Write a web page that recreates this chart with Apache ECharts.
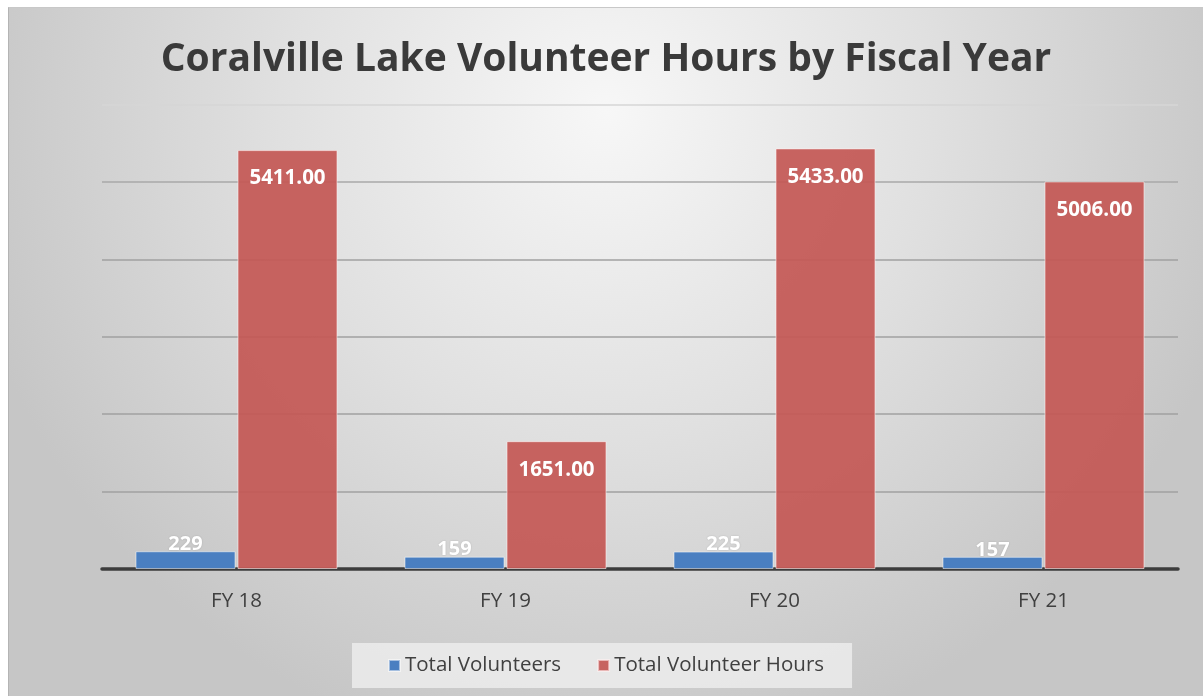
<!DOCTYPE html>
<html>
<head>
<meta charset="utf-8">
<script src="https://cdn.jsdelivr.net/npm/echarts@6/dist/echarts.min.js"></script>
<style>
html,body{margin:0;padding:0;background:#fff;width:1203px;height:696px;overflow:hidden;}
#chart{position:absolute;left:8px;top:7px;width:1195px;height:689px;border-left:1px solid #b4b4b4;border-top:1px solid #c8c8c8;box-sizing:border-box;}
</style>
</head>
<body>
<div id="chart"></div>
<script>
const categories = ['FY 18', 'FY 19', 'FY 20', 'FY 21'];
const totalVolunteers = [229, 159, 225, 157];
const totalVolunteerHours = [5411, 1651, 5433, 5006];
const seriesNames = ['Total Volunteers', 'Total Volunteer Hours'];

const chart = echarts.init(document.getElementById('chart'));
const font = '"Open Sans", "Noto Sans", sans-serif';
chart.setOption({
  backgroundColor: {
    type: 'radial', x: 0.5, y: 0.15, r: 0.95,
    colorStops: [
      {offset: 0, color: '#f7f7f7'},
      {offset: 0.5, color: '#e0e0e0'},
      {offset: 1, color: '#c6c6c6'}
    ]
  },
  animation: false,
  title: {
    text: 'Coralville Lake Volunteer Hours by Fiscal Year',
    left: 'center',
    top: 27,
    textStyle: {fontFamily: font, fontWeight: 'bold', fontSize: 39, color: '#3a3a3a'}
  },
  legend: {
    data: seriesNames,
    bottom: 8,
    left: 'center',
    itemWidth: 11,
    itemHeight: 11,
    itemGap: 36,
    padding: [12, 28, 12, 36],
    backgroundColor: 'rgba(236,236,236,0.85)',
    icon: 'rect',
    textStyle: {fontFamily: font, fontSize: 20.5, color: '#404040'}
  },
  grid: {left: 93, right: 25, top: 96.5, bottom: 127, containLabel: false},
  xAxis: {
    type: 'category',
    data: categories,
    axisLine: {lineStyle: {color: '#3c3c3c', width: 3.5}},
    axisTick: {show: false},
    axisLabel: {fontFamily: font, fontSize: 20.5, color: '#404040', margin: 22}
  },
  yAxis: {
    type: 'value', min: 0, max: 6000, interval: 1000,
    axisLabel: {show: false},
    axisLine: {show: false},
    axisTick: {show: false},
    splitLine: {lineStyle: {color: ['#a0a0a0', '#a0a0a0', '#a0a0a0', '#a0a0a0', '#a0a0a0', '#a8a8a8', '#d6d6d6'], width: 1.5}}
  },
  series: [
    {
      name: seriesNames[0],
      type: 'bar',
      data: totalVolunteers,
      barWidth: 100,
      barGap: '2%',
      itemStyle: {color: '#4a7fc1', borderColor: 'rgba(255,255,255,0.5)', borderWidth: 1},
      label: {
        show: true, position: 'top', distance: -3,
        fontFamily: font, fontWeight: 'bold', fontSize: 20, color: '#ffffff',
        textShadowColor: 'rgba(0,0,0,0.15)', textShadowBlur: 2
      }
    },
    {
      name: seriesNames[1],
      type: 'bar',
      data: totalVolunteerHours,
      barWidth: 100,
      itemStyle: {color: 'rgba(196,88,85,0.93)', borderColor: 'rgba(255,240,240,0.6)', borderWidth: 1},
      label: {
        show: true, position: 'insideTop', distance: 18,
        fontFamily: font, fontWeight: 'bold', fontSize: 20.5, color: '#ffffff',
        formatter: p => p.value.toFixed(2)
      }
    }
  ]
});
</script>
</body>
</html>
